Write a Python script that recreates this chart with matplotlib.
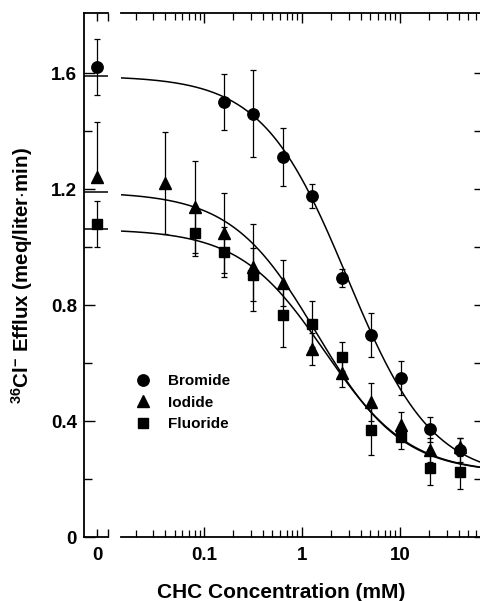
import numpy as np
import matplotlib
matplotlib.use("Agg")
import matplotlib.pyplot as plt
from matplotlib.lines import Line2D

plt.rcParams['font.family'] = ['Liberation Sans', 'DejaVu Sans']
plt.rcParams['font.weight'] = 'bold'
plt.rcParams['mathtext.fontset'] = 'custom'
plt.rcParams['mathtext.rm'] = 'Liberation Sans:bold'
plt.rcParams['mathtext.it'] = 'Liberation Sans:bold'
plt.rcParams['mathtext.bf'] = 'Liberation Sans:bold'

## data
conc = [0.04, 0.08, 0.16, 0.32, 0.64, 1.28, 2.56, 5.12, 10.24, 20.48, 40.96]

# values at zero CHC
bromide_0, bromide_0_err = 1.62, 0.097
iodide_0, iodide_0_err = 1.24, 0.19
fluoride_0, fluoride_0_err = 1.08, 0.08

# bromide: no point at 0.04 / 0.08
bromide_x = [0.16, 0.32, 0.64, 1.28, 2.56, 5.12, 10.24, 20.48, 40.96]
bromide = [1.50, 1.46, 1.31, 1.176, 0.893, 0.697, 0.548, 0.372, 0.30]
bromide_err = [0.095, 0.15, 0.10, 0.04, 0.03, 0.075, 0.06, 0.043, 0.04]

iodide_x = conc
iodide = [1.22, 1.138, 1.048, 0.931, 0.876, 0.648, 0.566, 0.466, 0.386, 0.30, 0.31]
iodide_err = [0.176, 0.16, 0.138, 0.15, 0.08, 0.055, 0.05, 0.066, 0.045, 0.04, 0.03]

fluoride_x = [0.08, 0.16, 0.32, 0.64, 1.28, 2.56, 5.12, 10.24, 20.48, 40.96]
fluoride = [1.048, 0.983, 0.905, 0.766, 0.734, 0.621, 0.369, 0.345, 0.238, 0.224]
fluoride_err = [0.08, 0.086, 0.09, 0.11, 0.08, 0.05, 0.086, 0.04, 0.06, 0.06]

# fitted inhibition curves: top, bottom, IC50 (mM), slope
fit_bromide = (1.59, 0.20, 2.9, 1.0)
fit_iodide = (1.19, 0.22, 1.4, 1.0)
fit_fluoride = (1.062, 0.22, 1.7, 1.0)

x_ticks = [0.1, 1, 10]
x_ticklabels = ['0.1', '1', '10']
y_ticks = [0, 0.4, 0.8, 1.2, 1.6]
y_ticklabels = ['0', '0.4', '0.8', '1.2', '1.6']


def hill(x, p):
    top, bottom, ic50, n = p
    return bottom + (top - bottom) / (1 + (x / ic50) ** n)


W, H = 480, 601
fig = plt.figure(figsize=(W / 100, H / 100), dpi=100)

y_bot, y_top = 537, 13
ax0 = fig.add_axes([84 / W, (H - y_bot) / H, 24 / W, (y_bot - y_top) / H])
ax1 = fig.add_axes([121 / W, (H - y_bot) / H, 361 / W, (y_bot - y_top) / H])

ylim = (0, 1.807)
mk = dict(color='black', ls='none', ecolor='black', elinewidth=0.9,
          capsize=2.2, capthick=0.9)

# ---- zero panel
ax0.set_xlim(-13, 11)
ax0.set_ylim(*ylim)
ax0.errorbar([0], [bromide_0], yerr=[bromide_0_err], marker='o', ms=8.2, **mk)
ax0.errorbar([0], [iodide_0], yerr=[[0], [iodide_0_err]], marker='^', ms=8, **mk)
ax0.errorbar([0], [fluoride_0], yerr=[fluoride_0_err], marker='s', ms=6.5, **mk)
for p in (fit_bromide, fit_iodide, fit_fluoride):
    ax0.axhline(p[0], color='black', lw=1.1)
ax0.spines['right'].set_visible(False)
ax0.set_xticks([0, 11])
ax0.set_xticklabels(['0', ''])
ax0.set_yticks(y_ticks)
ax0.set_yticklabels(y_ticklabels)
ax0.set_yticks([0.2, 0.6, 1.0, 1.4], minor=True)
ax0.tick_params(axis='x', which='both', direction='in', top=True, length=6,
                width=1, pad=7, labelsize=13.5)
ax0.tick_params(axis='y', which='major', direction='in', length=8, width=1,
                pad=5, labelsize=13.5)
ax0.tick_params(axis='y', which='minor', direction='in', length=6, width=1)

# ---- log panel
ax1.set_xscale('log')
ax1.set_xlim(0.0142, 69)
ax1.set_ylim(*ylim)
xs = np.logspace(np.log10(0.0142), np.log10(69), 300)
for p in (fit_bromide, fit_iodide, fit_fluoride):
    ax1.plot(xs, hill(xs, p), color='black', lw=1.1)
ax1.errorbar(bromide_x, bromide, yerr=bromide_err, marker='o', ms=8.2, **mk)
ax1.errorbar(iodide_x, iodide, yerr=iodide_err, marker='^', ms=8, **mk)
ax1.errorbar(fluoride_x, fluoride, yerr=fluoride_err, marker='s', ms=6.5, **mk)
ax1.spines['left'].set_visible(False)
ax1.set_xticks(x_ticks)
ax1.set_xticklabels(x_ticklabels)
ax1.tick_params(axis='x', which='major', direction='in', top=True, length=7,
                width=1, pad=7, labelsize=13.5)
ax1.tick_params(axis='x', which='minor', direction='in', top=True, length=5,
                width=0.9, labelbottom=False)
ax1.set_yticks(y_ticks)
ax1.set_yticks([0.2, 0.6, 1.0, 1.4], minor=True)
ax1.tick_params(axis='y', which='both', direction='in', left=False, right=True,
                labelleft=False, length=6, width=1)

for ax in (ax0, ax1):
    for s in ax.spines.values():
        s.set_linewidth(1.3)

# legend
handles = [Line2D([], [], color='black', ls='none', marker='o', ms=8.2),
           Line2D([], [], color='black', ls='none', marker='^', ms=8),
           Line2D([], [], color='black', ls='none', marker='s', ms=6.5)]
ax1.legend(handles, ['Bromide', 'Iodide', 'Fluoride'], loc='upper left',
           bbox_to_anchor=(135 / W, 1 - 374 / H), bbox_transform=fig.transFigure,
           frameon=False, fontsize=11, handlelength=1.0, handletextpad=1.15,
           labelspacing=0.5, borderpad=0, borderaxespad=0)

fig.text(281 / W, 1 - 592 / H, 'CHC Concentration (mM)', ha='center',
         va='center', fontsize=15, fontweight='bold')
fig.text(22 / W, 1 - 276 / H,
         r'$^{36}$Cl$^{-}$ Efflux (meq/liter$\cdot$min)', rotation=90,
         ha='center', va='center', fontsize=14.8, fontweight='bold')

fig.savefig('out.png', dpi=100)
